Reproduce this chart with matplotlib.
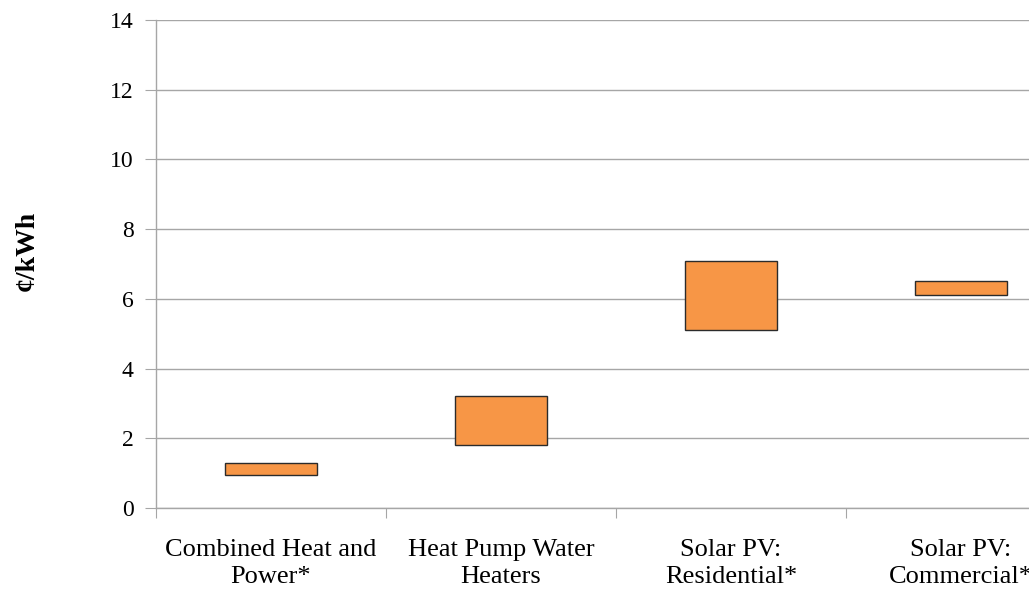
import matplotlib
matplotlib.use("Agg")
import matplotlib.pyplot as plt
import numpy as np

# Cost ranges, cents per kWh
categories = ["Combined Heat and\nPower*", "Heat Pump Water\nHeaters",
              "Solar PV:\nResidential*", "Solar PV:\nCommercial*"]
low = [0.95, 1.8, 5.1, 6.1]
high = [1.3, 3.2, 7.1, 6.5]
yticks = [0, 2, 4, 6, 8, 10, 12, 14]

plt.rcParams['font.family'] = ['Liberation Serif', 'DejaVu Serif']

fig = plt.figure(figsize=(10.29, 5.90), dpi=100)
# axes runs past the right edge, like the cropped original
ax = fig.add_axes([156 / 1029, 82 / 590, 920 / 1029, 488 / 590])

x = np.arange(len(categories))
heights = np.array(high) - np.array(low)
ax.bar(x, heights, bottom=low, width=0.4, color='#F79646',
       edgecolor='#2b2b2b', linewidth=1.0, zorder=3)

ax.set_xlim(-0.5, len(categories) - 0.5)
ax.set_ylim(0, 14)
ax.set_yticks(yticks)
ax.yaxis.grid(True, color='#a6a6a6', linewidth=1.0, zorder=0)

# category boundaries get the tick marks, labels sit at the centres
ax.set_xticks(np.arange(-0.5, len(categories), 1.0))
ax.set_xticklabels([])
ax.set_xticks(x, minor=True)
ax.set_xticklabels(categories, minor=True, fontsize=19, linespacing=1.3)
ax.tick_params(axis='x', which='minor', length=0, pad=22)
ax.tick_params(axis='x', which='major', length=7, color='#a6a6a6', direction='out')
ax.tick_params(axis='y', length=8, color='#a6a6a6', labelsize=17, pad=8)

for s in ['top', 'right']:
    ax.spines[s].set_visible(False)
for s in ['left', 'bottom']:
    ax.spines[s].set_color('#a6a6a6')
    ax.spines[s].set_linewidth(1.0)

fig.text(27 / 1029, 1 - 251 / 590, "¢/kWh", rotation=90, fontsize=20,
         fontweight='bold', ha='center', va='center')

fig.savefig("out.png", dpi=100)
